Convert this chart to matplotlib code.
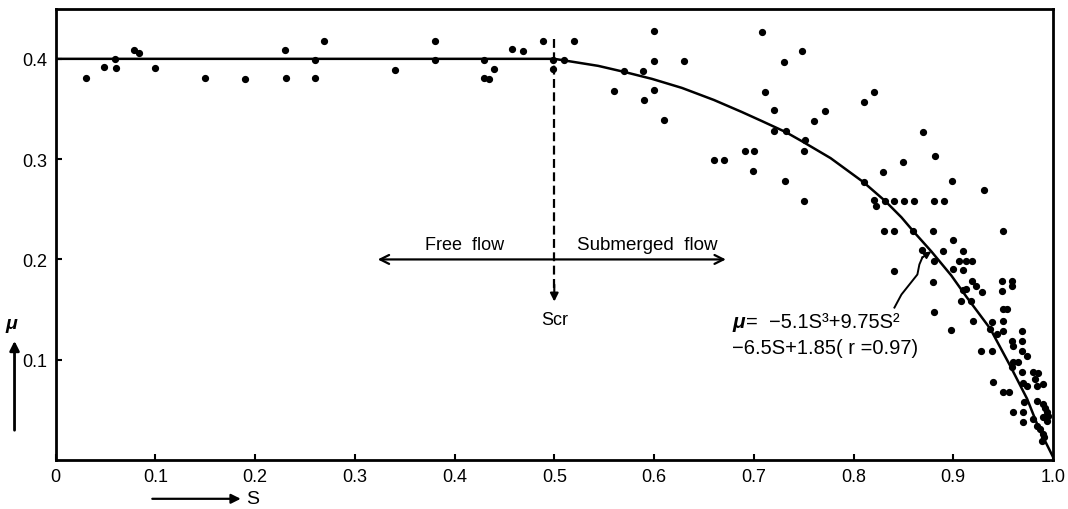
import matplotlib
matplotlib.use("Agg")
import matplotlib.pyplot as plt

plt.rcParams['font.family'] = ['Liberation Sans Narrow', 'Liberation Sans', 'DejaVu Sans']

# ---- data ----
S_obs = [0.031, 0.049, 0.061, 0.060, 0.079, 0.084, 0.100, 0.150, 0.190, 0.230, 0.231, 0.260,
         0.260, 0.269, 0.340, 0.380, 0.380, 0.430, 0.430, 0.435, 0.440, 0.458, 0.469,
         0.489, 0.499, 0.499, 0.510, 0.520, 0.560, 0.570, 0.589, 0.590, 0.600, 0.600, 0.600,
         0.610, 0.630, 0.660, 0.670, 0.691, 0.700, 0.699, 0.708, 0.711, 0.720, 0.720, 0.732,
         0.730, 0.731, 0.748, 0.751, 0.750, 0.750,
         0.760, 0.771, 0.810, 0.821, 0.870, 0.850, 0.830, 0.810, 0.821, 0.823,
         0.832, 0.841, 0.851, 0.861, 0.881, 0.891,
         0.831, 0.841, 0.860, 0.880, 0.950,
         0.869, 0.841, 0.882,
         0.899, 0.931, 0.900, 0.890, 0.910, 0.881, 0.906, 0.913, 0.919, 0.900, 0.910,
         0.880, 0.919, 0.923, 0.929, 0.910, 0.913, 0.908, 0.918, 0.949, 0.959, 0.949, 0.959,
         0.950, 0.954, 0.881, 0.898, 0.920, 0.939, 0.950, 0.937, 0.944, 0.950, 0.969, 0.959,
         0.960, 0.969, 0.928, 0.939, 0.969, 0.974, 0.960, 0.965, 0.959, 0.969, 0.980, 0.940,
         0.970, 0.974, 0.982, 0.984, 0.950, 0.956, 0.984, 0.971, 0.960, 0.970, 0.970, 0.980,
         0.984,
         0.985, 0.990, 0.990, 0.992, 0.994, 0.995, 0.990, 0.994, 0.987, 0.990, 0.991, 0.989]
mu_obs = [0.381, 0.392, 0.391, 0.400, 0.409, 0.406, 0.391, 0.381, 0.380, 0.409, 0.381, 0.399,
          0.381, 0.418, 0.389, 0.418, 0.399, 0.399, 0.381, 0.380, 0.390, 0.410, 0.408,
          0.418, 0.399, 0.390, 0.399, 0.418, 0.368, 0.388, 0.388, 0.359, 0.428, 0.398, 0.369,
          0.339, 0.398, 0.299, 0.299, 0.308, 0.308, 0.288, 0.427, 0.367, 0.349, 0.328, 0.328,
          0.397, 0.278, 0.408, 0.319, 0.308, 0.258,
          0.338, 0.348, 0.357, 0.367, 0.327, 0.297, 0.287, 0.277, 0.259, 0.253,
          0.258, 0.258, 0.258, 0.258, 0.258, 0.258,
          0.228, 0.228, 0.228, 0.228, 0.228,
          0.209, 0.188, 0.303,
          0.278, 0.269, 0.219, 0.208, 0.208, 0.198, 0.198, 0.198, 0.198, 0.190, 0.189,
          0.178, 0.179, 0.174, 0.168, 0.170, 0.171, 0.159, 0.159, 0.179, 0.179, 0.169, 0.174,
          0.151, 0.151, 0.148, 0.130, 0.139, 0.138, 0.139, 0.131, 0.126, 0.129, 0.129, 0.119,
          0.114, 0.119, 0.109, 0.109, 0.109, 0.104, 0.098, 0.098, 0.093, 0.088, 0.088, 0.078,
          0.077, 0.074, 0.081, 0.074, 0.068, 0.068, 0.059, 0.058, 0.048, 0.048, 0.038, 0.041,
          0.034,
          0.087, 0.076, 0.056, 0.052, 0.048, 0.044, 0.043, 0.039, 0.031, 0.026, 0.023, 0.019]

# fitted curve as drawn
S_fit = [0.0, 0.25, 0.50, 0.544, 0.570, 0.598, 0.628, 0.660, 0.688, 0.708, 0.732, 0.748,
         0.777, 0.810, 0.832, 0.848, 0.860, 0.878, 0.898, 0.913, 0.937, 0.957, 0.974, 0.986, 1.0]
mu_fit = [0.400, 0.400, 0.400, 0.393, 0.387, 0.380, 0.371, 0.359, 0.347, 0.338, 0.327, 0.318,
          0.301, 0.277, 0.258, 0.242, 0.228, 0.208, 0.184, 0.163, 0.131, 0.094, 0.061, 0.031, 0.003]

S_cr = 0.5
x_ticks = [0.0, 0.1, 0.2, 0.3, 0.4, 0.5, 0.6, 0.7, 0.8, 0.9, 1.0]
x_ticklabels = ['0', '0.1', '0.2', '0.3', '0.4', '0.5', '0.6', '0.7', '0.8', '0.9', '1.0']
y_ticks = [0.1, 0.2, 0.3, 0.4]
y_ticklabels = ['0.1', '0.2', '0.3', '0.4']

# leader line from the equation to the curve
S_lead = [0.841, 0.848, 0.864, 0.866, 0.869]
mu_lead = [0.152, 0.165, 0.185, 0.195, 0.202]

fig = plt.figure(figsize=(10.68, 5.10), dpi=100)
ax = fig.add_axes([0.052, 0.096, 0.934, 0.885])

ax.plot(S_fit, mu_fit, color='black', lw=1.8, zorder=2)
ax.plot(S_obs, mu_obs, 'o', color='black', ms=4.2, zorder=3)

ax.set_xlim(0, 1.0)
ax.set_ylim(0, 0.45)
ax.set_xticks(x_ticks)
ax.set_xticklabels(x_ticklabels)
ax.set_yticks(y_ticks)
ax.set_yticklabels(y_ticklabels)
ax.tick_params(direction='in', length=4, width=1.5, labelsize=13, pad=6, colors='black')
for sp in ax.spines.values():
    sp.set_linewidth(2.0)
    sp.set_color('black')

# Scr dashed line with arrow
ax.plot([S_cr, S_cr], [0.420, 0.172], color='black', lw=1.6, ls=(0, (4, 2)), zorder=2)
ax.annotate('', xy=(S_cr, 0.158), xytext=(S_cr, 0.175),
            arrowprops=dict(arrowstyle='-|>', color='black', lw=1.5,
                            mutation_scale=12, shrinkA=0, shrinkB=0))
ax.text(S_cr, 0.140, 'Scr', ha='center', va='center', fontsize=13)

# free / submerged flow arrow
ax.annotate('', xy=(0.323, 0.200), xytext=(0.672, 0.200),
            arrowprops=dict(arrowstyle='<->', color='black', lw=1.6,
                            mutation_scale=16, shrinkA=0, shrinkB=0))
ax.text(0.410, 0.206, 'Free  flow', ha='center', va='bottom', fontsize=13)
ax.text(0.593, 0.206, 'Submerged  flow', ha='center', va='bottom', fontsize=13.5)

# equation
ax.text(0.679, 0.138, 'μ', ha='left', va='center', fontsize=15,
        fontweight='bold', style='italic')
ax.text(0.692, 0.138, '=  −5.1S³+9.75S²', ha='left', va='center', fontsize=14.5)
ax.text(0.678, 0.112, '−6.5S+1.85( r =0.97)', ha='left', va='center', fontsize=14.5)

ax.plot(S_lead, mu_lead, color='black', lw=1.4, zorder=2)
ax.annotate('', xy=(0.878, 0.208), xytext=(S_lead[-1], mu_lead[-1]),
            arrowprops=dict(arrowstyle='-|>', color='black', lw=1.4,
                            mutation_scale=10, shrinkA=0, shrinkB=0))

# axis labels with arrows
fig.text(0.011, 0.363, 'μ', ha='center', va='center', fontsize=14,
         fontweight='bold', style='italic')
fig.patches.append(matplotlib.patches.FancyArrowPatch(
    (0.0136, 0.149), (0.0136, 0.335), transform=fig.transFigure,
    arrowstyle='-|>', mutation_scale=14, lw=2.0, color='black'))
fig.patches.append(matplotlib.patches.FancyArrowPatch(
    (0.140, 0.020), (0.228, 0.020), transform=fig.transFigure,
    arrowstyle='-|>', mutation_scale=14, lw=1.6, color='black'))
fig.text(0.230, 0.020, 'S', ha='left', va='center', fontsize=14)

fig.savefig('out.png', dpi=100, facecolor='white')
